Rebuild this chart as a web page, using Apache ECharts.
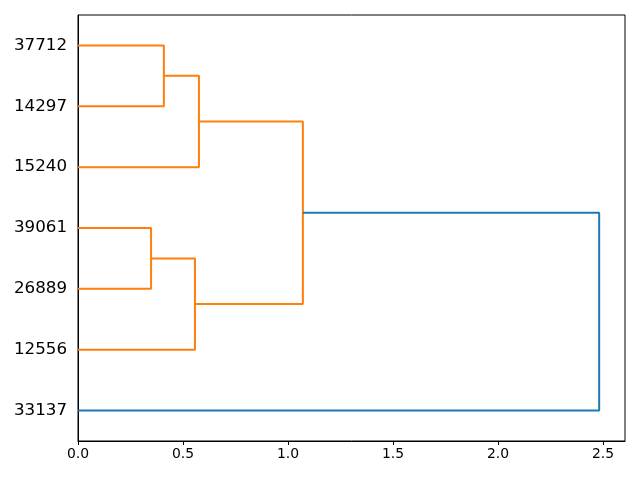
<!DOCTYPE html>
<html>
<head>
<meta charset="utf-8">
<script src="https://cdn.jsdelivr.net/npm/echarts@6/dist/echarts.min.js"></script>
<style>html,body{margin:0;padding:0;background:#fff;}#c{width:640px;height:480px;}</style>
</head>
<body>
<div id="c"></div>
<script>
// Leaf labels from bottom (y=5) to top (y=65)
const leafLabels = ['33137', '12556', '26889', '39061', '15240', '14297', '37712'];
const leafPositions = [5, 15, 25, 35, 45, 55, 65];
// Link coordinates (scipy-style): icoord = leaf-axis positions, dcoord = distances
const icoord = [
  [55, 55, 65, 65],
  [45, 45, 60, 60],
  [25, 25, 35, 35],
  [15, 15, 30, 30],
  [22.5, 22.5, 52.5, 52.5],
  [5, 5, 37.5, 37.5]
];
const dcoord = [
  [0, 0.409, 0.409, 0],
  [0, 0.576, 0.576, 0.409],
  [0, 0.348, 0.348, 0],
  [0, 0.557, 0.557, 0.348],
  [0.557, 1.071, 1.071, 0.576],
  [0, 2.482, 2.482, 1.071]
];
const linkColors = ['#ff7f0e', '#ff7f0e', '#ff7f0e', '#ff7f0e', '#ff7f0e', '#1f77b4'];
const xTicks = [0, 0.5, 1.0, 1.5, 2.0, 2.5];

const series = icoord.map((ic, i) => ({
  type: 'line',
  data: ic.map((y, j) => [dcoord[i][j], y]),
  symbol: 'none',
  silent: true,
  animation: false,
  lineStyle: { color: linkColors[i], width: 2 }
}));

const chart = echarts.init(document.getElementById('c'));
chart.setOption({
  animation: false,
  grid: { left: 78, right: 15, top: 15, bottom: 39, show: true, borderColor: '#000', borderWidth: 1, backgroundColor: 'transparent' },
  xAxis: {
    type: 'value', min: 0, max: 2.605,
    splitLine: { show: false },
    axisLine: { show: true, onZero: false, lineStyle: { color: '#000', width: 1 } },
    axisTick: { show: true, length: 4, lineStyle: { color: '#000' }, customValues: xTicks },
    axisLabel: { customValues: xTicks, color: '#000', fontSize: 13.9, fontFamily: 'DejaVu Sans', margin: 6, formatter: v => v.toFixed(1) }
  },
  yAxis: {
    type: 'value', min: 0, max: 70,
    splitLine: { show: false },
    axisLine: { show: true, onZero: false, lineStyle: { color: '#000', width: 1 } },
    axisTick: { show: false },
    axisLabel: {
      customValues: leafPositions, color: '#000', fontSize: 16.7, fontFamily: 'DejaVu Sans', margin: 11,
      formatter: v => leafLabels[leafPositions.indexOf(Math.round(v))] || ''
    }
  },
  series: series
});
</script>
</body>
</html>
